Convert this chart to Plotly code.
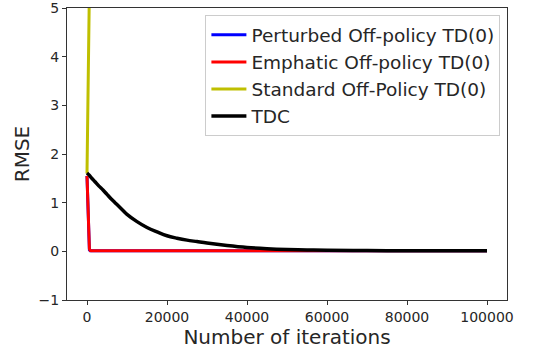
import plotly.graph_objects as go

# Data
perturbed_iter = [0, 150, 300, 450, 600, 800, 1000, 20000, 40000, 60000, 80000, 100000]
perturbed_rmse = [1.55, 1.0, 0.5, 0.15, 0.03, 0.01, 0.01, 0.01, 0.01, 0.01, 0.01, 0.01]

emphatic_iter = [0, 150, 300, 450, 600, 800, 1000, 20000, 40000, 60000, 80000, 100000]
emphatic_rmse = [1.55, 1.1, 0.6, 0.2, 0.05, 0.015, 0.01, 0.01, 0.01, 0.01, 0.01, 0.01]

standard_iter = [0, 150, 300, 450, 600, 800, 1000]
standard_rmse = [1.6, 2.4, 3.3, 4.3, 5.4, 7.0, 9.0]

tdc_iter = [0, 500, 1000, 2000, 3000, 4000, 5000, 6000, 7000, 8000, 9000, 10000,
            12500, 15000, 17500, 20000, 22500, 25000, 27500, 30000, 35000,
            40000, 45000, 50000, 55000, 60000, 70000, 80000, 90000, 100000]
tdc_rmse = [1.61, 1.57, 1.52, 1.43, 1.34, 1.26, 1.17, 1.08, 1.0, 0.92, 0.84, 0.76,
            0.61, 0.49, 0.4, 0.32, 0.27, 0.23, 0.2, 0.17, 0.12,
            0.08, 0.055, 0.038, 0.028, 0.022, 0.016, 0.012, 0.01, 0.01]

x_ticks = [0, 20000, 40000, 60000, 80000, 100000]
y_ticks = [-1, 0, 1, 2, 3, 4, 5]

fig = go.Figure()
fig.add_trace(go.Scatter(x=perturbed_iter, y=perturbed_rmse, mode="lines",
                         name="Perturbed Off-policy TD(0)",
                         line=dict(color="#0000ff", width=3)))
fig.add_trace(go.Scatter(x=emphatic_iter, y=emphatic_rmse, mode="lines",
                         name="Emphatic Off-policy TD(0)",
                         line=dict(color="#ff0000", width=3)))
fig.add_trace(go.Scatter(x=standard_iter, y=standard_rmse, mode="lines",
                         name="Standard Off-Policy TD(0)",
                         line=dict(color="#bfbf00", width=3)))
fig.add_trace(go.Scatter(x=tdc_iter, y=tdc_rmse, mode="lines",
                         name="TDC",
                         line=dict(color="#000000", width=3.5, shape="spline")))

axis_common = dict(
    showgrid=False, zeroline=False, showline=True, linecolor="#333333",
    linewidth=1, mirror=True, ticks="outside", ticklen=4, tickcolor="#333333",
    ticklabeloverflow="allow", automargin=False,
    tickfont=dict(family="DejaVu Sans", size=14, color="#262626"),
)

fig.update_layout(
    width=533, height=352,
    margin=dict(l=67, r=26, t=8, b=52),
    paper_bgcolor="white", plot_bgcolor="white",
    font=dict(family="DejaVu Sans", color="#262626"),
    xaxis=dict(range=[-5000, 105000], tickvals=x_ticks,
               ticktext=[str(v) for v in x_ticks],
               title=dict(text="Number of iterations",
                          font=dict(family="DejaVu Sans", size=20, color="#262626"),
                          standoff=2),
               **axis_common),
    yaxis=dict(range=[-1, 5], tickvals=y_ticks,
               title=dict(text="RMSE",
                          font=dict(family="DejaVu Sans", size=20, color="#262626"),
                          standoff=3),
               **axis_common),
    legend=dict(x=0.985, y=0.975, xanchor="right", yanchor="top",
                bgcolor="white", bordercolor="#cccccc", borderwidth=1,
                font=dict(family="DejaVu Sans", size=18.5, color="#262626"),
                tracegroupgap=0, itemwidth=35),
    showlegend=True,
    hovermode=False,
)

fig.write_html("out.html")
